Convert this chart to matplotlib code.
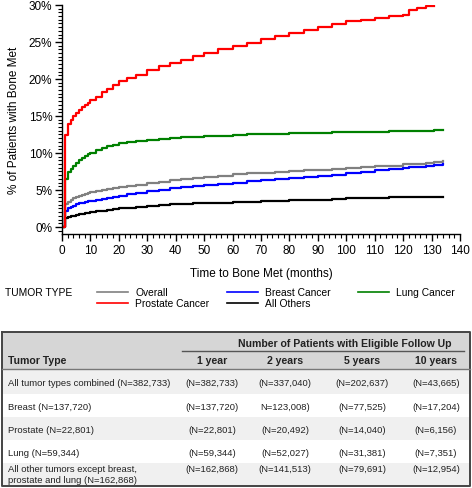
import numpy as np
import matplotlib.pyplot as plt
from matplotlib.ticker import MultipleLocator, PercentFormatter

plt.rcParams['font.family'] = ['Liberation Sans', 'DejaVu Sans']

# months since diagnosis at which the cumulative incidence is read
months = [0, 1, 2, 3, 4, 5, 6, 7, 8, 9, 10, 12, 14, 16, 18, 20, 23, 26, 30, 34,
          38, 42, 46, 50, 55, 60, 65, 70, 75, 80, 85, 90, 95, 100, 105, 110,
          115, 120, 122, 125, 128, 131, 134]

# % of patients with bone metastasis (step values)
overall = [0, 3.1, 3.4, 3.7, 3.9, 4.05, 4.2, 4.35, 4.45, 4.6, 4.7, 4.85, 5.0,
           5.15, 5.25, 5.4, 5.55, 5.7, 5.9, 6.1, 6.3, 6.45, 6.6, 6.8, 6.95, 7.1,
           7.25, 7.35, 7.45, 7.55, 7.65, 7.75, 7.85, 7.95, 8.1, 8.2, 8.3, 8.45,
           8.5, 8.55, 8.65, 8.75, 8.85]
breast = [0, 2.2, 2.5, 2.7, 2.9, 3.05, 3.2, 3.3, 3.4, 3.5, 3.55, 3.7, 3.8,
          3.95, 4.05, 4.2, 4.4, 4.6, 4.8, 5.0, 5.2, 5.35, 5.5, 5.7, 5.85, 6.0,
          6.15, 6.3, 6.45, 6.6, 6.75, 6.9, 7.05, 7.25, 7.45, 7.65, 7.85, 8.0,
          8.05, 8.15, 8.25, 8.35, 8.45]
lung = [0, 6.5, 7.4, 7.9, 8.3, 8.7, 9.0, 9.3, 9.6, 9.8, 10.0, 10.35, 10.65,
        10.9, 11.1, 11.3, 11.5, 11.65, 11.8, 11.95, 12.05, 12.15, 12.2, 12.3,
        12.35, 12.4, 12.5, 12.55, 12.6, 12.65, 12.7, 12.75, 12.8, 12.85, 12.9,
        12.9, 12.95, 12.95, 12.95, 12.95, 12.95, 13.15, 13.15]
others = [0, 1.2, 1.35, 1.45, 1.55, 1.65, 1.75, 1.8, 1.9, 1.95, 2.0, 2.1, 2.2,
          2.3, 2.4, 2.5, 2.6, 2.7, 2.85, 2.95, 3.05, 3.15, 3.2, 3.25, 3.3, 3.35,
          3.4, 3.5, 3.55, 3.6, 3.65, 3.7, 3.8, 3.85, 3.9, 3.95, 4.0, 4.05, 4.05,
          4.1, 4.1, 4.1, 4.1]
# prostate follow up stops at 131 months
prostate = [0, 12.4, 13.9, 14.5, 15.0, 15.4, 15.8, 16.2, 16.5, 16.8, 17.1, 17.6,
            18.2, 18.7, 19.2, 19.7, 20.2, 20.6, 21.2, 21.7, 22.2, 22.6, 23.1,
            23.5, 24.0, 24.5, 24.9, 25.4, 25.8, 26.2, 26.6, 27.0, 27.4, 27.8,
            28.0, 28.3, 28.5, 28.7, 29.3, 29.6, 29.8, 29.8]

series_names = ['Overall', 'Breast Cancer', 'Lung Cancer', 'Prostate Cancer', 'All Others']
series_colors = ['#808080', '#0000ff', '#008000', '#ff0000', '#000000']

# table below the chart
year_headers = ['1 year', '2 years', '5 years', '10 years']
tumor_rows = ['All tumor types combined (N=382,733)',
              'Breast (N=137,720)',
              'Prostate (N=22,801)',
              'Lung (N=59,344)',
              'All other tumors except breast,\nprostate and lung (N=162,868)']
followup = [['(N=382,733)', '(N=337,040)', '(N=202,637)', '(N=43,665)'],
            ['(N=137,720)', 'N=123,008)', '(N=77,525)', '(N=17,204)'],
            ['(N=22,801)', '(N=20,492)', '(N=14,040)', '(N=6,156)'],
            ['(N=59,344)', '(N=52,027)', '(N=31,381)', '(N=7,351)'],
            ['(N=162,868)', '(N=141,513)', '(N=79,691)', '(N=12,954)']]

W, H = 472, 489
fig = plt.figure(figsize=(W / 100, H / 100), dpi=100)

# ---- chart
ax = fig.add_axes([62 / W, 1 - 235 / H, 398 / W, 229 / H])
lw = 1.6
ax.step(months, overall, where='post', color=series_colors[0], lw=lw)
ax.step(months, breast, where='post', color=series_colors[1], lw=lw)
ax.step(months, others, where='post', color=series_colors[4], lw=lw)
ax.step(months, lung, where='post', color=series_colors[2], lw=lw)
ax.step(months[:len(prostate)], prostate, where='post', color=series_colors[3], lw=lw)

ax.set_xlim(0, 140)
ax.set_ylim(-0.95, 30)
ax.xaxis.set_major_locator(MultipleLocator(10))
ax.xaxis.set_minor_locator(MultipleLocator(2))
ax.yaxis.set_major_locator(MultipleLocator(5))
ax.yaxis.set_minor_locator(MultipleLocator(0.5))
ax.yaxis.set_major_formatter(PercentFormatter(decimals=0))
for s in ['top', 'right']:
    ax.spines[s].set_visible(False)
for s in ['left', 'bottom']:
    ax.spines[s].set_linewidth(1.0)
ax.tick_params(which='major', length=5, width=1, labelsize=8.5, pad=2)
ax.tick_params(which='minor', length=3, width=0.8)
ax.set_xlabel('Time to Bone Met (months)', fontsize=8.5, labelpad=8)
ax.set_ylabel('% of Patients with Bone Met', fontsize=8.5, labelpad=6)

# ---- overlay in pixel units for legend and table
tab = fig.add_axes([0, 0, 1, 1])
tab.set_xlim(0, W)
tab.set_ylim(H, 0)
tab.axis('off')
tab.patch.set_visible(False)

# legend: 3 columns, filled row by row
tab.text(5, 293, 'TUMOR TYPE', fontsize=7.4, va='center')
leg_x = [97, 227, 358]
leg_y = [293, 304]
for k, (name, col) in enumerate(zip(series_names, series_colors)):
    x0, y0 = leg_x[k % 3], leg_y[k // 3]
    tab.plot([x0, x0 + 31], [y0, y0], color=col, lw=1.2)
    tab.text(x0 + 38, y0, name, fontsize=7.4, va='center')

top, head_bot, bot = 333, 370, 487
row_edges = [370, 394.5, 417.5, 440.5, 463.5, 487]
tab.fill_between([2, 470], top, head_bot, color='#d6d6d6', lw=0)
for i in range(len(tumor_rows)):
    c = '#f0f0f0' if i % 2 == 0 else 'white'
    tab.fill_between([2, 470], row_edges[i], row_edges[i + 1], color=c, lw=0)
tab.plot([2, 470, 470, 2, 2], [top, top, bot, bot, top], color='#444444', lw=1.4)
tab.plot([2, 470], [head_bot, head_bot], color='#777777', lw=1.0)
tab.plot([182, 464], [352, 352], color='#555555', lw=1.0)

fs = 6.8
hfs = 7.6
tab.text(345, 344, 'Number of Patients with Eligible Follow Up', fontsize=hfs,
         weight='bold', ha='center', va='center', color='#222222')
tab.text(8, 361, 'Tumor Type', fontsize=hfs, weight='bold', va='center',
         color='#222222')
col_x = [212, 285, 362, 436]
for x, lab in zip(col_x, year_headers):
    tab.text(x, 361, lab, fontsize=hfs, weight='bold', ha='center', va='center',
             color='#222222')
for i, lab in enumerate(tumor_rows):
    yc = (row_edges[i] + row_edges[i + 1]) / 2 + 1.2
    if '\n' in lab:
        tab.text(8, yc - 1.5, lab, fontsize=fs, va='center', linespacing=1.3,
                 color='#222222')
        yc = row_edges[i] + 6.5
    else:
        tab.text(8, yc, lab, fontsize=fs, va='center', color='#222222')
    for x, val in zip(col_x, followup[i]):
        tab.text(x, yc, val, fontsize=fs, ha='center', va='center',
                 color='#222222')

fig.savefig('out.png', dpi=100)
